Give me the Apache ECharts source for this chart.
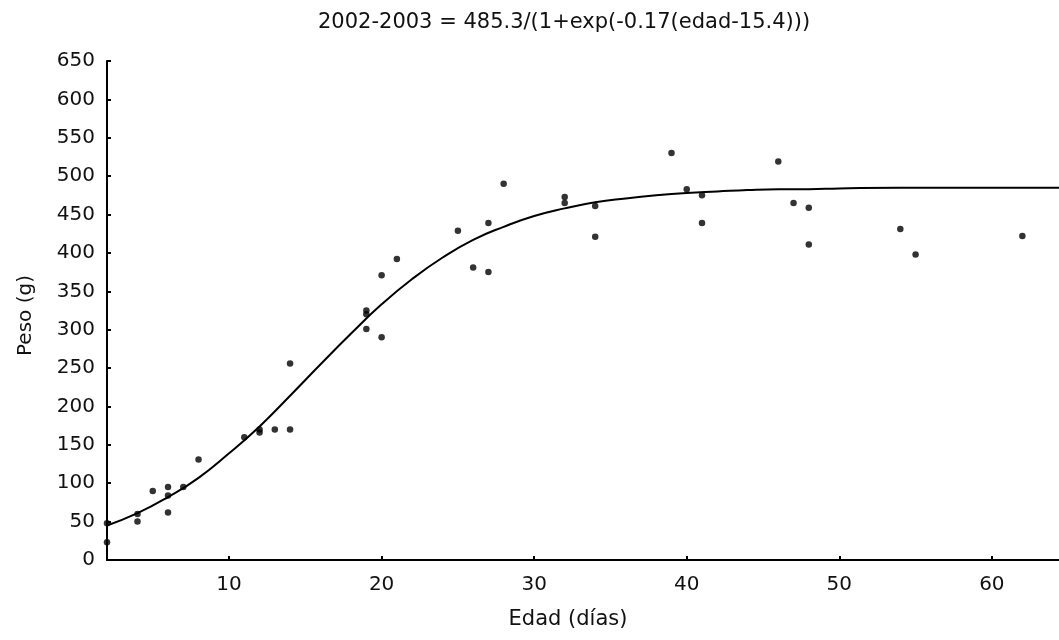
<!DOCTYPE html>
<html>
<head>
<meta charset="utf-8">
<script src="https://cdn.jsdelivr.net/npm/echarts@6/dist/echarts.min.js"></script>
<style>
html,body{margin:0;padding:0;background:#fff;}
#chart{width:1059px;height:640px;}
</style>
</head>
<body>
<div id="chart"></div>
<script>
// Observed points: age (days) and weight (g)
const ageDays = [2, 2, 4, 4, 5, 6, 6, 6, 7, 8, 11, 12, 12, 13, 14, 14, 19, 19, 19, 20, 20, 21, 25, 26, 27, 27, 28, 32, 32, 34, 34, 39, 40, 41, 41, 46, 47, 48, 48, 54, 55, 62];
const weightG = [48, 23, 60, 50, 90, 95, 84, 62, 95, 131, 160, 170, 166, 170, 256, 170, 325, 320, 301, 371, 290, 392, 429, 381, 439, 375, 490, 473, 465, 461, 421, 530, 483, 475, 439, 519, 465, 459, 411, 431, 398, 422];

// Fitted logistic curve
const curveAge = [2, 4, 6, 8, 10, 12, 14, 16, 18, 20, 22, 24, 26, 28, 30, 32, 34, 36, 38, 40, 42, 44, 46, 48, 50, 54, 58, 62, 64.4];
const curveWeight = [45, 61, 82, 107, 139, 174, 214, 255, 295, 333, 366, 394, 417, 434, 448, 458, 466, 471, 475, 478, 480, 482, 483, 483, 484, 485, 485, 485, 485];

const xTicks = [10, 20, 30, 40, 50, 60];
const titleText = '2002-2003 = 485.3/(1+exp(-0.17(edad-15.4)))';
const xName = 'Edad (días)';
const yName = 'Peso (g)';

const pts = ageDays.map((a, i) => [a, weightG[i]]);
const curve = curveAge.map((a, i) => [a, curveWeight[i]]);

const FONT = 'DejaVu Sans';
const chart = echarts.init(document.getElementById('chart'), null, {renderer: 'canvas'});
chart.setOption({
  animation: false,
  backgroundColor: '#ffffff',
  title: {
    text: titleText,
    left: 318,
    top: 12,
    padding: 0,
    textStyle: {fontFamily: FONT, fontSize: 21, fontWeight: 'normal', color: '#111'}
  },
  grid: {left: 107, right: 0, top: 61, bottom: 80, containLabel: false},
  xAxis: {
    type: 'value',
    min: 2,
    max: 64.4,
    name: xName,
    nameLocation: 'middle',
    nameGap: 49,
    nameTextStyle: {fontFamily: FONT, fontSize: 21, color: '#111', padding: [0, 30, 0, 0]},
    splitLine: {show: false},
    axisLine: {show: true, lineStyle: {color: '#000', width: 2}},
    axisTick: {show: true, inside: true, length: 4, lineStyle: {color: '#000', width: 2}, customValues: xTicks},
    axisLabel: {fontFamily: FONT, fontSize: 20, color: '#111', margin: 15, customValues: xTicks}
  },
  yAxis: {
    type: 'value',
    min: 0,
    max: 650,
    interval: 50,
    name: yName,
    nameLocation: 'middle',
    nameRotate: 90,
    nameGap: 71,
    nameTextStyle: {fontFamily: FONT, fontSize: 20, color: '#111', padding: [0, 10, 0, 0]},
    splitLine: {show: false},
    axisLine: {show: true, lineStyle: {color: '#000', width: 2}},
    axisTick: {show: true, inside: true, length: 4, lineStyle: {color: '#000', width: 2}},
    axisLabel: {fontFamily: FONT, fontSize: 20, color: '#111', margin: 12}
  },
  series: [
    {
      type: 'line',
      data: curve,
      smooth: true,
      showSymbol: false,
      lineStyle: {color: '#000', width: 2},
      z: 2
    },
    {
      type: 'scatter',
      data: pts,
      symbol: 'circle',
      symbolSize: 6.5,
      itemStyle: {color: '#000'},
      z: 3
    }
  ]
});
</script>
</body>
</html>
